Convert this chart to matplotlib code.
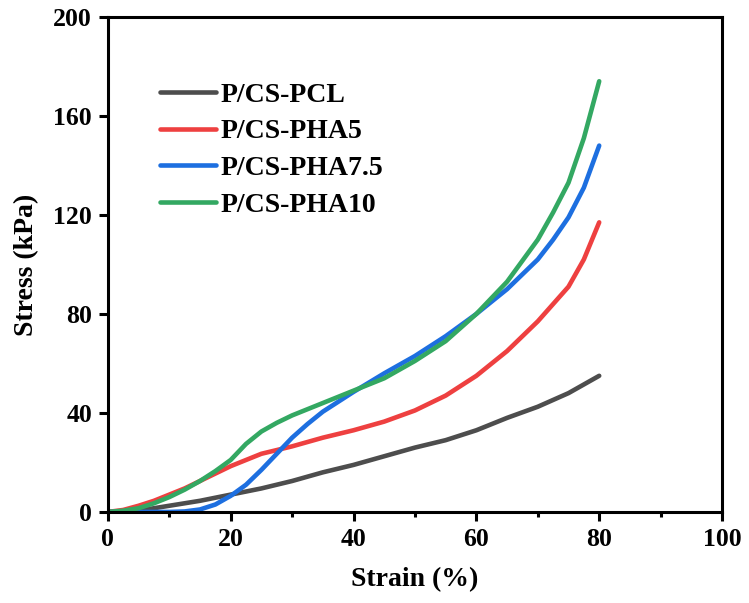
import numpy as np
import matplotlib
matplotlib.use('Agg')
import matplotlib.pyplot as plt
from matplotlib.ticker import MultipleLocator

plt.rcParams['font.family'] = ['Liberation Serif', 'DejaVu Serif']
plt.rcParams['font.weight'] = 'bold'

# Strain (%) and stress (kPa) values
pcl_x = [0, 5, 10, 15, 20, 25, 30, 35, 40, 45, 50, 55, 60, 65, 70, 75, 80]
pcl_y = [0, 0.5, 2.5, 4.5, 7, 9.5, 12.5, 16, 19, 22.5, 26, 29, 33, 38, 42.5, 48, 55]

pha5_x = [0, 2.5, 5, 7.5, 10, 12.5, 15, 17.5, 20, 22.5, 25, 27.5, 30, 35, 40,
          45, 50, 55, 60, 65, 70, 72.5, 75, 77.5, 80]
pha5_y = [0, 0.8, 2.5, 4.5, 7, 9.5, 12.5, 15.5, 18.5, 21, 23.5, 25, 26.5, 30, 33,
          36.5, 41, 47, 55, 65, 77, 84, 91, 102, 117]

pha75_x = [0, 5, 10, 12.5, 15, 17.5, 20, 22.5, 25, 27.5, 30, 32.5, 35, 37.5, 40,
           45, 50, 55, 60, 65, 70, 72.5, 75, 77.5, 80]
pha75_y = [0, 0, 0, 0.2, 1, 3, 6.5, 11, 17, 23.5, 30, 35.5, 40.5, 44.5, 48.5,
           56, 63, 71, 80, 90, 102, 110, 119, 131, 148]

pha10_x = [0, 2.5, 5, 7.5, 10, 12.5, 15, 17.5, 20, 22.5, 25, 27.5, 30, 32.5, 35,
           37.5, 40, 45, 50, 55, 60, 65, 70, 72.5, 75, 77.5, 80]
pha10_y = [0, 0.5, 1.5, 3.5, 6, 9, 12.5, 16.5, 21, 27.5, 32.5, 36, 39, 41.5, 44,
           46.5, 49, 54, 61, 69, 80, 93, 110, 121, 133, 151, 174]

labels = ['P/CS-PCL', 'P/CS-PHA5', 'P/CS-PHA7.5', 'P/CS-PHA10']
colors = ['#4d4d4d', '#ee4040', '#1d6fe0', '#33a862']

fig = plt.figure(figsize=(7.49, 6.03), dpi=100)
ax = fig.add_axes([0.144, 0.151, 0.820, 0.821])

series = [(pcl_x, pcl_y), (pha5_x, pha5_y), (pha75_x, pha75_y), (pha10_x, pha10_y)]
for (x, y), lab, c in zip(series, labels, colors):
    ax.plot(x, y, color=c, lw=3.3, label=lab, solid_capstyle='round')

ax.set_xlim(0, 100)
ax.set_ylim(0, 200)
ax.xaxis.set_major_locator(MultipleLocator(20))
ax.xaxis.set_minor_locator(MultipleLocator(10))
ax.yaxis.set_major_locator(MultipleLocator(40))

for s in ax.spines.values():
    s.set_linewidth(2.2)
ax.tick_params(which='major', direction='out', length=6.5, width=2.2,
               labelsize=18.5, pad=5)
ax.tick_params(which='minor', direction='out', length=3.5, width=2.2)
ax.tick_params(top=False, right=False)
for t in ax.get_xticklabels() + ax.get_yticklabels():
    t.set_fontweight('bold')

ax.set_xlabel('Strain (%)', fontsize=20, fontweight='bold', labelpad=12)
ax.set_ylabel('Stress (kPa)', fontsize=20, fontweight='bold', labelpad=10)

leg = ax.legend(loc='upper left', bbox_to_anchor=(0.045, 0.918), frameon=False,
                prop={'family': 'Liberation Serif', 'weight': 'bold', 'size': 20},
                handlelength=2.0, handletextpad=0.15, labelspacing=0.4)

fig.savefig('out.png', dpi=100)
